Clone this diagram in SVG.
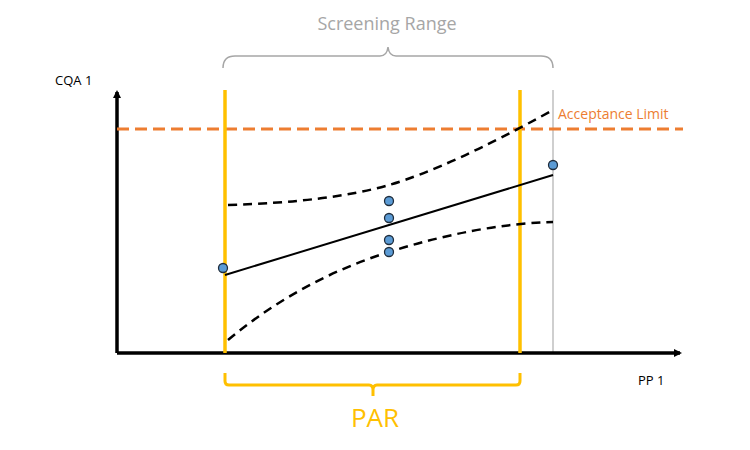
<svg xmlns="http://www.w3.org/2000/svg" width="750" height="450" viewBox="0 0 750 450">
<style>
.t{font-family:"Open Sans","Liberation Sans",sans-serif}
.dash{fill:none;stroke:#000;stroke-width:2.5;stroke-dasharray:9,6}
.pt{fill:#5B9BD5;stroke:#1F2D3D;stroke-width:1.3}
.yl{stroke:#FFC000;stroke-width:3.5}
</style>
<defs><marker id="ah" markerWidth="8" markerHeight="8" refX="6" refY="4" orient="auto" markerUnits="userSpaceOnUse" viewBox="0 0 8 8"><path d="M0,0 L8,4 L0,8 z" fill="#000"/></marker></defs>
<rect width="750" height="450" fill="#fff"/>
<g id="screening">
<text x="387" y="30" class="t" font-size="18" fill="#A6A6A6" text-anchor="middle">Screening Range</text>
<path d="M223,68 Q223,56 235,56 L380,56 Q387,56 388,47 Q389,56 396,56 L541,56 Q553,56 553,68" fill="none" stroke="#A6A6A6" stroke-width="1.5"/>
<line x1="553" y1="90" x2="553" y2="353" stroke="#BFBFBF" stroke-width="1.5"/>
</g>
<g id="axes">
<line x1="117" y1="353" x2="117" y2="92" stroke="#000" stroke-width="3.5" marker-end="url(#ah)"/>
<line x1="117" y1="353" x2="680" y2="353" stroke="#000" stroke-width="3.5" marker-end="url(#ah)"/>
<text x="55" y="85" class="t" font-size="13" fill="#000">CQA 1</text>
<text x="638" y="385" class="t" font-size="13" fill="#000">PP 1</text>
</g>
<g id="limit">
<line x1="117" y1="129" x2="683" y2="129" stroke="#ED7D31" stroke-width="3" stroke-dasharray="12,6"/>
<text x="558" y="119" class="t" font-size="14" fill="#ED7D31">Acceptance Limit</text>
</g>
<g id="par">
<line class="yl" x1="225" y1="90" x2="225" y2="353"/>
<line class="yl" x1="520" y1="90" x2="520" y2="353"/>
<path d="M225,373 L225,381 Q225,385 229,385 L369,385 Q373,385 373,390 L373,396 M373,390 Q373,385 377,385 L516,385 Q520,385 520,381 L520,373" fill="none" stroke="#FFC000" stroke-width="3"/>
<text x="375" y="427" class="t" font-size="26" fill="#FFC000" text-anchor="middle">PAR</text>
</g>
<g id="connectors">
<path class="dash" d="M228,205 Q330,202 389,185 T553,110"/>
<path class="dash" d="M228,340 Q300,280 389,252 T553,222"/>
<line x1="225" y1="275" x2="553" y2="175" stroke="#000" stroke-width="2"/>
</g>
<g id="points">
<circle class="pt" cx="223" cy="268" r="4.5"/>
<circle class="pt" cx="553" cy="165" r="4.5"/>
<circle class="pt" cx="389" cy="201" r="4.5"/>
<circle class="pt" cx="389" cy="218" r="4.5"/>
<circle class="pt" cx="389" cy="240" r="4.5"/>
<circle class="pt" cx="389" cy="252" r="4.5"/>
</g>
</svg>
